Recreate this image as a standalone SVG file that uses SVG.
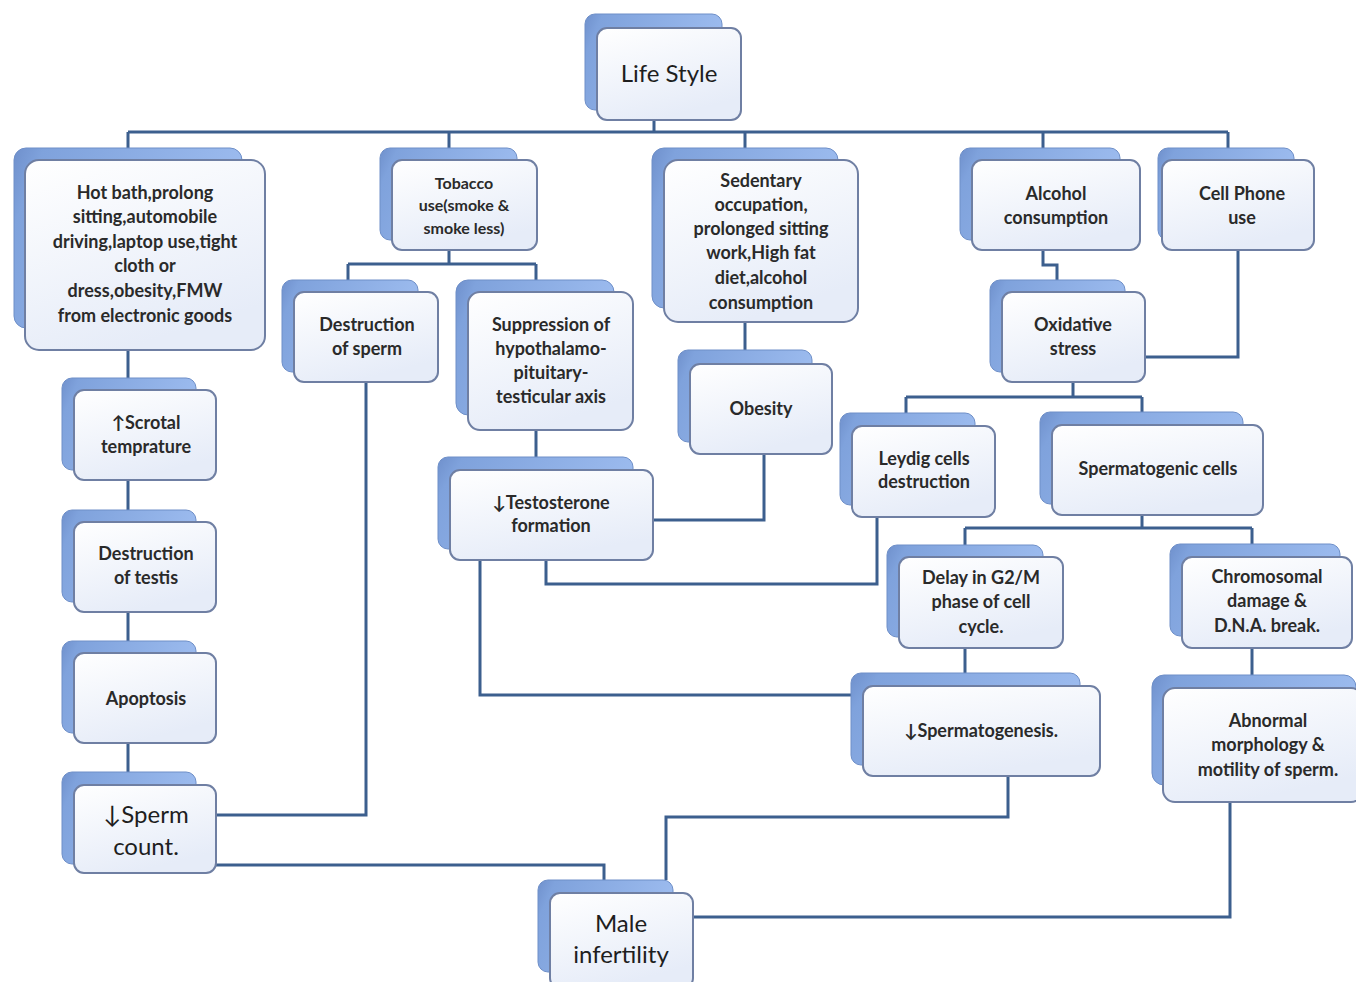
<svg xmlns="http://www.w3.org/2000/svg" width="1356" height="982" viewBox="0 0 1356 982">
<defs>
<linearGradient id="backG" x1="0" y1="0" x2="1" y2="0.3">
<stop offset="0" stop-color="#6f90cc"/>
<stop offset="0.12" stop-color="#7fa2dc"/>
<stop offset="1" stop-color="#9dbcef"/>
</linearGradient>
<linearGradient id="frontG" x1="0" y1="0" x2="0.4" y2="1">
<stop offset="0" stop-color="#ffffff"/>
<stop offset="1" stop-color="#e6ecf8"/>
</linearGradient>
</defs>
<style>
.bk{fill:url(#backG);stroke:#6e8fc8;stroke-width:1}
.fr{fill:url(#frontG);stroke:#6f7fa3;stroke-width:2}
.t{font-family:Lato,"Liberation Sans","DejaVu Sans",sans-serif;font-size:18px;font-weight:bold;fill:#2a2a2a;text-anchor:middle}
.s{font-size:16px}
.b{font-size:24px;font-weight:normal;fill:#1e1e1e}
.c{fill:none;stroke:#3c5f8e;stroke-width:3}
</style>
<rect width="1356" height="982" fill="#ffffff"/>
<g id="connectors">
<path class="c" d="M654 120V132M128 132H1228M128 132V148M449 132V148M745 132V148M1043 132V148M1228 132V160"/>
<path class="c" d="M449 250V264M348 264H536M348 264V280M536 264V280"/>
<path class="c" d="M745 322V350"/>
<path class="c" d="M536 430V457"/>
<path class="c" d="M764 454V520H653"/>
<path class="c" d="M1043 250V265H1057V280"/>
<path class="c" d="M1238 250V357H1145"/>
<path class="c" d="M1073 382V397M906 397H1142M906 397V413M1142 397V412"/>
<path class="c" d="M877 517V584H546V560"/>
<path class="c" d="M1142 515V528M965 528H1252M965 528V545M1252 528V544"/>
<path class="c" d="M965 648V673"/>
<path class="c" d="M480 560V695H851"/>
<path class="c" d="M1252 648V675"/>
<path class="c" d="M128 350V378M128 480V510M128 612V641M128 743V772"/>
<path class="c" d="M366 382V815H216"/>
<path class="c" d="M216 865H604V880"/>
<path class="c" d="M1008 776V817H666V880"/>
<path class="c" d="M1230 802V917H693"/>
</g>
<g id="n-lifestyle">
<rect class="bk" x="585" y="14" width="137" height="96" rx="10"/>
<rect class="fr" x="597" y="28" width="144" height="92" rx="10"/>
<text class="t b" x="669" y="82">Life Style</text>
</g>
<g id="n-hotbath">
<rect class="bk" x="14" y="148" width="228" height="180" rx="12"/>
<rect class="fr" x="25" y="160" width="240" height="190" rx="14"/>
<text class="t"><tspan x="145" y="199">Hot bath,prolong</tspan><tspan x="145" y="223">sitting,automobile</tspan><tspan x="145" y="248">driving,laptop use,tight</tspan><tspan x="145" y="272">cloth or</tspan><tspan x="145" y="297">dress,obesity,FMW</tspan><tspan x="145" y="322">from electronic goods</tspan></text>
</g>
<g id="n-tobacco">
<rect class="bk" x="380" y="148" width="137" height="92" rx="10"/>
<rect class="fr" x="392" y="160" width="145" height="90" rx="10"/>
<text class="t s"><tspan x="464" y="189">Tobacco</tspan><tspan x="464" y="211">use(smoke &amp;</tspan><tspan x="464" y="234">smoke less)</tspan></text>
</g>
<g id="n-sedentary">
<rect class="bk" x="652" y="148" width="186" height="160" rx="12"/>
<rect class="fr" x="664" y="160" width="194" height="162" rx="14"/>
<text class="t"><tspan x="761" y="187">Sedentary</tspan><tspan x="761" y="211">occupation,</tspan><tspan x="761" y="235">prolonged  sitting</tspan><tspan x="761" y="259">work,High fat</tspan><tspan x="761" y="284">diet,alcohol</tspan><tspan x="761" y="309">consumption</tspan></text>
</g>
<g id="n-alcohol">
<rect class="bk" x="960" y="148" width="160" height="92" rx="10"/>
<rect class="fr" x="972" y="160" width="168" height="90" rx="10"/>
<text class="t"><tspan x="1056" y="200">Alcohol</tspan><tspan x="1056" y="224">consumption</tspan></text>
</g>
<g id="n-cellphone">
<rect class="bk" x="1158" y="148" width="136" height="92" rx="10"/>
<rect class="fr" x="1162" y="160" width="152" height="90" rx="10"/>
<text class="t"><tspan x="1242" y="200">Cell Phone</tspan><tspan x="1242" y="224">use</tspan></text>
</g>
<g id="n-destsperm">
<rect class="bk" x="282" y="280" width="136" height="92" rx="10"/>
<rect class="fr" x="294" y="292" width="144" height="90" rx="10"/>
<text class="t"><tspan x="367" y="331">Destruction</tspan><tspan x="367" y="355">of sperm</tspan></text>
</g>
<g id="n-suppression">
<rect class="bk" x="456" y="280" width="158" height="135" rx="12"/>
<rect class="fr" x="468" y="292" width="165" height="138" rx="12"/>
<text class="t"><tspan x="551" y="331">Suppression of</tspan><tspan x="551" y="355">hypothalamo-</tspan><tspan x="551" y="379">pituitary-</tspan><tspan x="551" y="403">testicular axis</tspan></text>
</g>
<g id="n-obesity">
<rect class="bk" x="678" y="350" width="134" height="92" rx="10"/>
<rect class="fr" x="690" y="364" width="142" height="90" rx="10"/>
<text class="t"><tspan x="761" y="415">Obesity</tspan></text>
</g>
<g id="n-testosterone">
<rect class="bk" x="438" y="457" width="195" height="92" rx="10"/>
<rect class="fr" x="450" y="470" width="203" height="90" rx="10"/>
<text class="t"><tspan x="551" y="509">↓Testosterone</tspan><tspan x="551" y="532">formation</tspan></text>
</g>
<g id="n-oxidative">
<rect class="bk" x="990" y="280" width="135" height="92" rx="10"/>
<rect class="fr" x="1002" y="292" width="143" height="90" rx="10"/>
<text class="t"><tspan x="1073" y="331">Oxidative</tspan><tspan x="1073" y="355">stress</tspan></text>
</g>
<g id="n-leydig">
<rect class="bk" x="840" y="413" width="135" height="92" rx="10"/>
<rect class="fr" x="852" y="426" width="143" height="91" rx="10"/>
<text class="t"><tspan x="924" y="465">Leydig cells</tspan><tspan x="924" y="488">destruction</tspan></text>
</g>
<g id="n-spermatogenic">
<rect class="bk" x="1040" y="412" width="203" height="92" rx="10"/>
<rect class="fr" x="1052" y="425" width="211" height="90" rx="10"/>
<text class="t"><tspan x="1158" y="475">Spermatogenic cells</tspan></text>
</g>
<g id="n-delay">
<rect class="bk" x="887" y="545" width="156" height="92" rx="10"/>
<rect class="fr" x="899" y="557" width="164" height="91" rx="10"/>
<text class="t"><tspan x="981" y="584">Delay in G2/M</tspan><tspan x="981" y="608">phase of cell</tspan><tspan x="981" y="633">cycle.</tspan></text>
</g>
<g id="n-chromosomal">
<rect class="bk" x="1170" y="544" width="170" height="92" rx="10"/>
<rect class="fr" x="1182" y="557" width="170" height="91" rx="10"/>
<text class="t"><tspan x="1267" y="583">Chromosomal</tspan><tspan x="1267" y="607">damage &amp;</tspan><tspan x="1267" y="632">D.N.A. break.</tspan></text>
</g>
<g id="n-spermatogenesis">
<rect class="bk" x="851" y="673" width="229" height="92" rx="10"/>
<rect class="fr" x="863" y="686" width="237" height="90" rx="10"/>
<text class="t"><tspan x="981" y="737">↓Spermatogenesis.</tspan></text>
</g>
<g id="n-abnormal">
<rect class="bk" x="1152" y="675" width="204" height="110" rx="12"/>
<rect class="fr" x="1163" y="688" width="200" height="114" rx="12"/>
<text class="t"><tspan x="1268" y="727">Abnormal</tspan><tspan x="1268" y="751">morphology &amp;</tspan><tspan x="1268" y="776">motility of sperm.</tspan></text>
</g>
<g id="n-scrotal">
<rect class="bk" x="62" y="378" width="134" height="92" rx="10"/>
<rect class="fr" x="74" y="390" width="142" height="90" rx="10"/>
<text class="t"><tspan x="146" y="429">↑Scrotal</tspan><tspan x="146" y="453">temprature</tspan></text>
</g>
<g id="n-destestis">
<rect class="bk" x="62" y="510" width="134" height="92" rx="10"/>
<rect class="fr" x="74" y="522" width="142" height="90" rx="10"/>
<text class="t"><tspan x="146" y="560">Destruction</tspan><tspan x="146" y="584">of testis</tspan></text>
</g>
<g id="n-apoptosis">
<rect class="bk" x="62" y="641" width="134" height="92" rx="10"/>
<rect class="fr" x="74" y="653" width="142" height="90" rx="10"/>
<text class="t"><tspan x="146" y="705">Apoptosis</tspan></text>
</g>
<g id="n-spermcount">
<rect class="bk" x="62" y="772" width="134" height="92" rx="10"/>
<rect class="fr" x="74" y="785" width="142" height="88" rx="10"/>
<text class="t b"><tspan x="146" y="823">↓Sperm</tspan><tspan x="146" y="855">count.</tspan></text>
</g>
<g id="n-male">
<rect class="bk" x="538" y="880" width="135" height="92" rx="10"/>
<rect class="fr" x="550" y="893" width="143" height="95" rx="10"/>
<text class="t b"><tspan x="621" y="932">Male</tspan><tspan x="621" y="963">infertility</tspan></text>
</g>
</svg>
